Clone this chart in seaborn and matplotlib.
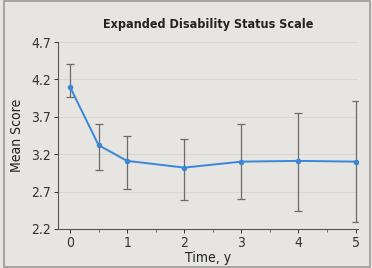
import numpy as np
import pandas as pd
import seaborn as sns
import matplotlib.pyplot as plt
from matplotlib.ticker import MultipleLocator

# Values
time_y = [0, 0.5, 1, 2, 3, 4, 5]
mean_score = [4.10, 3.32, 3.11, 3.02, 3.10, 3.11, 3.10]
ci_upper = [4.41, 3.60, 3.44, 3.40, 3.60, 3.75, 3.91]
ci_lower = [3.96, 2.99, 2.73, 2.59, 2.60, 2.44, 2.29]
y_ticks = [2.2, 2.7, 3.2, 3.7, 4.2, 4.7]
x_ticks = [0, 1, 2, 3, 4, 5]

df = pd.DataFrame({'Time': time_y, 'Mean': mean_score,
                   'Upper': ci_upper, 'Lower': ci_lower})

sns.set_style('ticks')
plt.rcParams['font.family'] = ['DejaVu Sans']
plt.rcParams['font.stretch'] = 'condensed'

bg = '#e6e5e1'
fig = plt.figure(figsize=(3.72, 2.68), dpi=100, facecolor=bg)
ax = fig.add_axes([0.156, 0.146, 0.806, 0.697])
ax.set_facecolor(bg)

# Error bars
yerr = np.array([df['Mean'] - df['Lower'], df['Upper'] - df['Mean']])
ax.errorbar(df['Time'], df['Mean'], yerr=yerr, fmt='none', ecolor='#6b6b6b',
            elinewidth=0.9, capsize=3, capthick=0.9, zorder=2)

sns.lineplot(data=df, x='Time', y='Mean', ax=ax, color='#3a86d8', linewidth=1.4,
             marker='o', markersize=4, markeredgewidth=0, zorder=3)

ax.set_xlim(-0.21, 5.04)
ax.set_ylim(2.2, 4.7)
ax.set_yticks(y_ticks)
ax.set_yticklabels([f'{v:.1f}' for v in y_ticks])
ax.set_xticks(x_ticks)
ax.xaxis.set_minor_locator(MultipleLocator(0.5))
for v in y_ticks[1:]:
    ax.axhline(v, color='#d6d5d0', linewidth=0.6, zorder=0)

sns.despine(ax=ax)
for s in ['left', 'bottom']:
    ax.spines[s].set_color('#555555')
    ax.spines[s].set_linewidth(0.8)
ax.tick_params(axis='both', labelsize=10, colors='#333333', length=3, width=0.7, pad=2)
ax.tick_params(axis='x', which='minor', length=2, width=0.6, colors='#555555')

ax.set_xlabel('Time, y', fontsize=10, color='#222222', labelpad=1)
ax.set_ylabel('Mean Score', fontsize=10, color='#222222', labelpad=5)
ax.set_title('Expanded Disability Status Scale', fontsize=9, fontweight='bold',
             color='#222222', pad=10)

fig.patches.append(plt.Rectangle((0.01, 0.005), 0.985, 0.99, transform=fig.transFigure,
                                 fill=False, edgecolor='#9a9a96', linewidth=1.2))

fig.savefig('out.png', dpi=100, facecolor=bg)
